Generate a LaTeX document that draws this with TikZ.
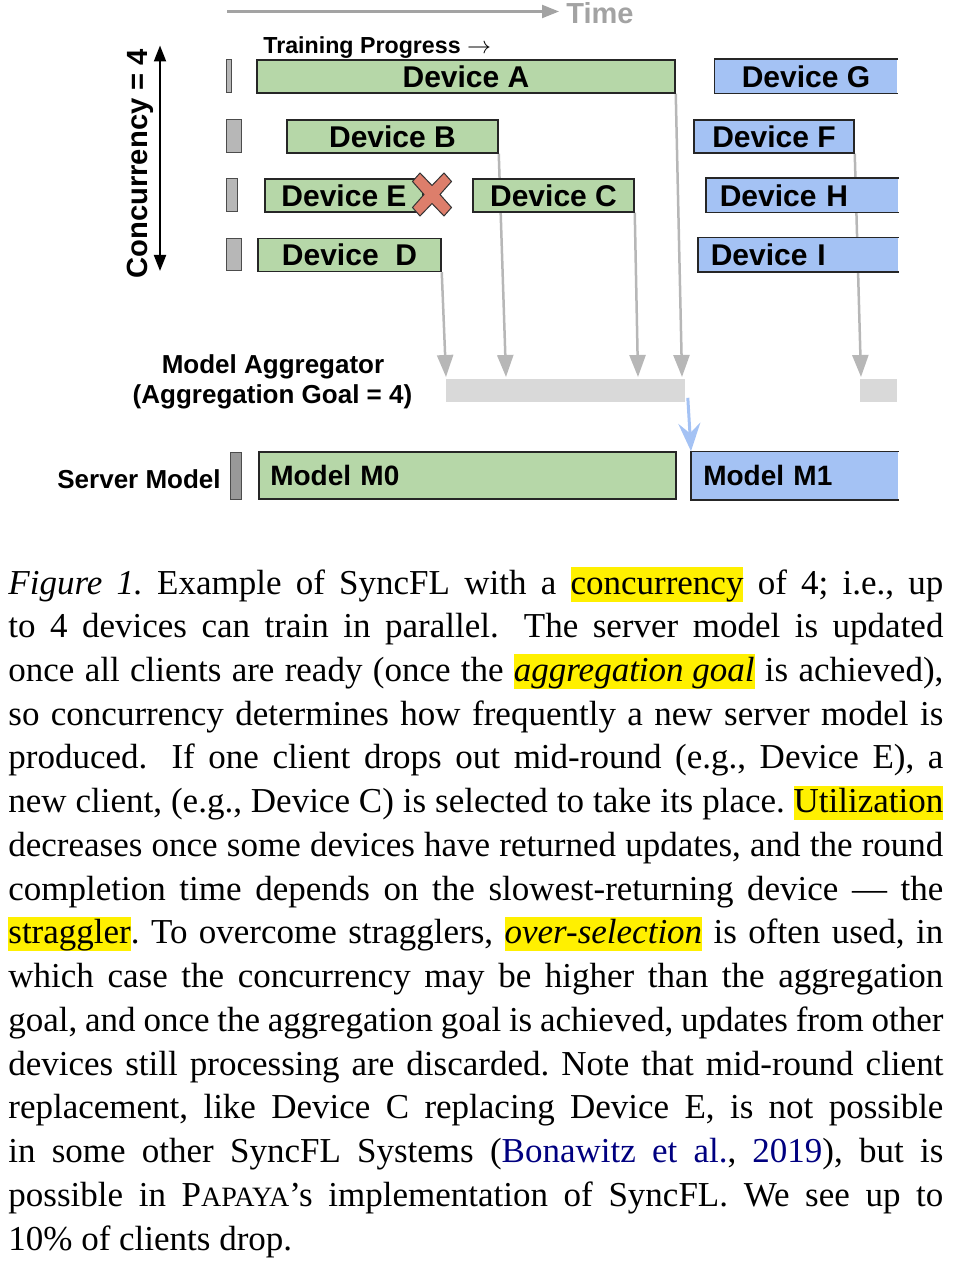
\documentclass[tikz,border=0pt]{standalone}
\usepackage{fontspec}
\setmainfont{Liberation Serif}
\newfontfamily\diagfont{Liberation Sans}
\usetikzlibrary{positioning}
\usetikzlibrary{calc}
\usetikzlibrary{arrows.meta}
\usetikzlibrary{backgrounds}

\definecolor{devgreen}{HTML}{B6D7A8}
\definecolor{devblue}{HTML}{A4C2F4}
\definecolor{agggray}{HTML}{D9D9D9}
\definecolor{slotgray}{HTML}{B7B7B7}
\definecolor{servergray}{HTML}{999999}
\definecolor{feedgray}{HTML}{B7B7B7}
\definecolor{timegray}{HTML}{A3A3A3}
\definecolor{crossred}{HTML}{DD7E6B}
\definecolor{hlyellow}{HTML}{FFF000}
\definecolor{citeblue}{HTML}{000080}

\newcommand{\hlt}[1]{{\setlength{\fboxsep}{0pt}\colorbox{hlyellow}{\rule[-3.5pt]{0pt}{17pt}#1}}}

\tikzset{
	boxline/.style={draw=black!85, line width=0.75pt},
	device/.style={boxline, minimum height=16.5pt, inner sep=0pt, font=\diagfont\bfseries\fontsize{15}{15}\selectfont},
	greenbar/.style={device, fill=devgreen},
	bluebar/.style={device, fill=devblue},
	openbar/.style={device, draw=none, fill=devblue},
	slotbar/.style={draw=black!70, line width=0.5pt, fill=slotgray},
	aggbar/.style={fill=agggray, inner sep=0pt, minimum height=11.5pt},
	sidelabel/.style={inner sep=0pt, font=\diagfont\bfseries\fontsize{13}{13}\selectfont},
	feed/.style={draw=feedgray, line width=1.25pt, -{Triangle[width=8pt,length=11pt]}},
	push/.style={draw=devblue, line width=1.5pt, -{Stealth[width=11pt,length=14pt,inset=5pt]}},
	caption/.style={inner sep=0pt, text width=467.5pt, align=justify, font=\fontsize{17.5}{21.87}\selectfont},
}

\begin{document}
\begin{tikzpicture}[x=0.5pt,y=-0.5pt]
	\useasboundingbox (0,0) rectangle (958,1272);

	% time axis.....................
	\node [sidelabel, anchor=base west, text=timegray, font=\diagfont\bfseries\fontsize{14.5}{14.5}\selectfont] (time) at (566,23.3) {Time};
	\coordinate (timestart) at (227,11.5);
	\draw [timegray, line width=1.1pt, -{Triangle[width=6.5pt,length=8.5pt]}] (timestart) -- ([xshift=-3.5pt]time.west |- timestart);

	% concurrency axis..............
	\node [sidelabel, anchor=base west, rotate=90, font=\diagfont\bfseries\fontsize{14.6}{14.6}\selectfont] (conc) at (147,279) {Concurrency = 4};
	\coordinate (conctop) at (160,45.5);
	\coordinate (concbot) at (160,271);
	\draw [line width=1pt, {Triangle[width=6pt,length=8pt]}-{Triangle[width=6pt,length=8pt]}] (conctop) -- (concbot);

	\node [sidelabel, anchor=base west, font=\diagfont\bfseries\fontsize{11.6}{11.6}\selectfont] (progress) at (263,53.3) {Training Progress $\rightarrow$};

	% slots.........................
	\draw [slotbar] (226,60) rectangle (231,93);
	\draw [slotbar] (226,120) rectangle (241,153);
	\draw [slotbar] (226,179) rectangle (237,212);
	\draw [slotbar] (226,239) rectangle (241,271);

	% first round devices...........
	\node [greenbar, minimum width=209pt] (devA) at (466,76.5) {Device A};
	\node [greenbar, minimum width=105.5pt] (devB) at (392.5,136.5) {Device B};
	\node [greenbar, minimum width=79pt] (devE) at (344,195.5) {Device E};
	\node [greenbar, minimum width=80.5pt] (devC) at (553.5,195.5) {Device C};
	\node [greenbar, minimum width=91.5pt] (devD) at (349.5,255) {Device\ \ D};

	% dropped device................
	\begin{scope}[shift={(432,194.5)}]
		\draw [fill=crossred, draw=black!80, line width=0.5pt, line join=miter] (-12,-21.5) -- (0,-9) -- (12,-21.5) -- (19.5,-13) -- (8,0) -- (19.5,13) -- (12,21.5) -- (0,9) -- (-12,21.5) -- (-19.5,13) -- (-8,0) -- (-19.5,-13) -- cycle;
	\end{scope}

	% second round devices..........
	\node [openbar, minimum width=91pt] (devG) at (806,76.5) {Device G};
	\node [bluebar, minimum width=80pt] (devF) at (774,136.5) {Device F};
	\node [openbar, anchor=west, inner xsep=6.5pt, text width=82.5pt, align=left] (devH) at (706,195.5) {Device H};
	\node [openbar, anchor=west, inner xsep=6pt, text width=87.5pt, align=left] (devI) at (698,255) {Device I};
	\foreach \dev in {devG,devH,devI}
		\draw [boxline] (\dev.north east) -- (\dev.north west) -- (\dev.south west) -- (\dev.south east);

	% aggregator....................
	\node [sidelabel, anchor=base] (agglabel) at (273,374) {Model Aggregator};
	\node [sidelabel, anchor=base] (agggoal) at (272.5,404) {(Aggregation Goal = 4)};
	\node [aggbar, anchor=north west, minimum width=119.5pt] (agg) at (446,379) {};
	\node [aggbar, anchor=north west, minimum width=18.5pt] (aggnext) at (860,379) {};

	% updates to aggregator (behind the bars).........
	\coordinate (inD) at (446,377);
	\coordinate (inB) at (506,377);
	\coordinate (inC) at (638,377);
	\coordinate (inA) at (682,377);
	\coordinate (inF) at (861,377);
	\begin{scope}[on background layer]
		\draw [feed] (devD.south east) -- (inD);
		\draw [feed] (devB.south east) -- (inB);
		\draw [feed] (devC.south east) -- (inC);
		\draw [feed] (devA.south east) -- (inA);
		\draw [feed] (devF.south east) -- (inF);
	\end{scope}

	% server model..................
	\node [sidelabel, anchor=base west] (serverlabel) at (57,488) {Server Model};
	\draw [slotbar, fill=servergray] (230,452) rectangle (241,499);
	\node [greenbar, minimum height=23.5pt, anchor=west, inner xsep=5.75pt, text width=197pt, align=left, font=\diagfont\bfseries\fontsize{14}{14}\selectfont] (modelM0) at (258,475.5) {Model M0};
	\node [openbar, minimum height=23.5pt, anchor=west, inner xsep=5.75pt, text width=91.5pt, align=left, font=\diagfont\bfseries\fontsize{14}{14}\selectfont] (modelM1) at (691,475.5) {Model M1};
	\draw [boxline] (modelM1.north east) -- (modelM1.north west) -- (modelM1.south west) -- (modelM1.south east);

	% new model.....................
	\draw [push] ([shift={(2,-5)}]agg.south east) -- (modelM1.north west);

	% caption.......................
	\node [caption, anchor=base west] (cap) at (8,594) {\noindent\hyphenpenalty=10000\frenchspacing
\textit{Figure 1.}\ Example of SyncFL with a \hlt{concurrency} of 4; i.e., up\linebreak
to 4 devices can train in parallel.\hspace{0.3em} The server model is updated\linebreak
once all clients are ready (once the \hlt{\textit{aggregation goal}} is achieved),\linebreak
so concurrency determines how frequently a new server model is\linebreak
produced.\hspace{0.3em} If one client drops out mid-round (e.g., Device E), a\linebreak
new client, (e.g., Device C) is selected to take its place. \hlt{Utilization}\linebreak
decreases once some devices have returned updates, and the round\linebreak
completion time depends on the slowest-returning device --- the\linebreak
\hlt{straggler}. To overcome stragglers, \hlt{\textit{over-selection}} is often used, in\linebreak
which case the concurrency may be higher than the aggregation\linebreak
goal, and once the aggregation goal is achieved, updates from other\linebreak
devices still processing are discarded. Note that mid-round client\linebreak
replacement, like Device C replacing Device E, is not possible\linebreak
in some other SyncFL Systems (\textcolor{citeblue}{Bonawitz et~al.}, \textcolor{citeblue}{2019}), but is\linebreak
possible in P{\fontsize{14}{14}\selectfont APAYA}'s implementation of SyncFL. We see up to\linebreak
10\% of clients drop.};

\end{tikzpicture}
\end{document}
